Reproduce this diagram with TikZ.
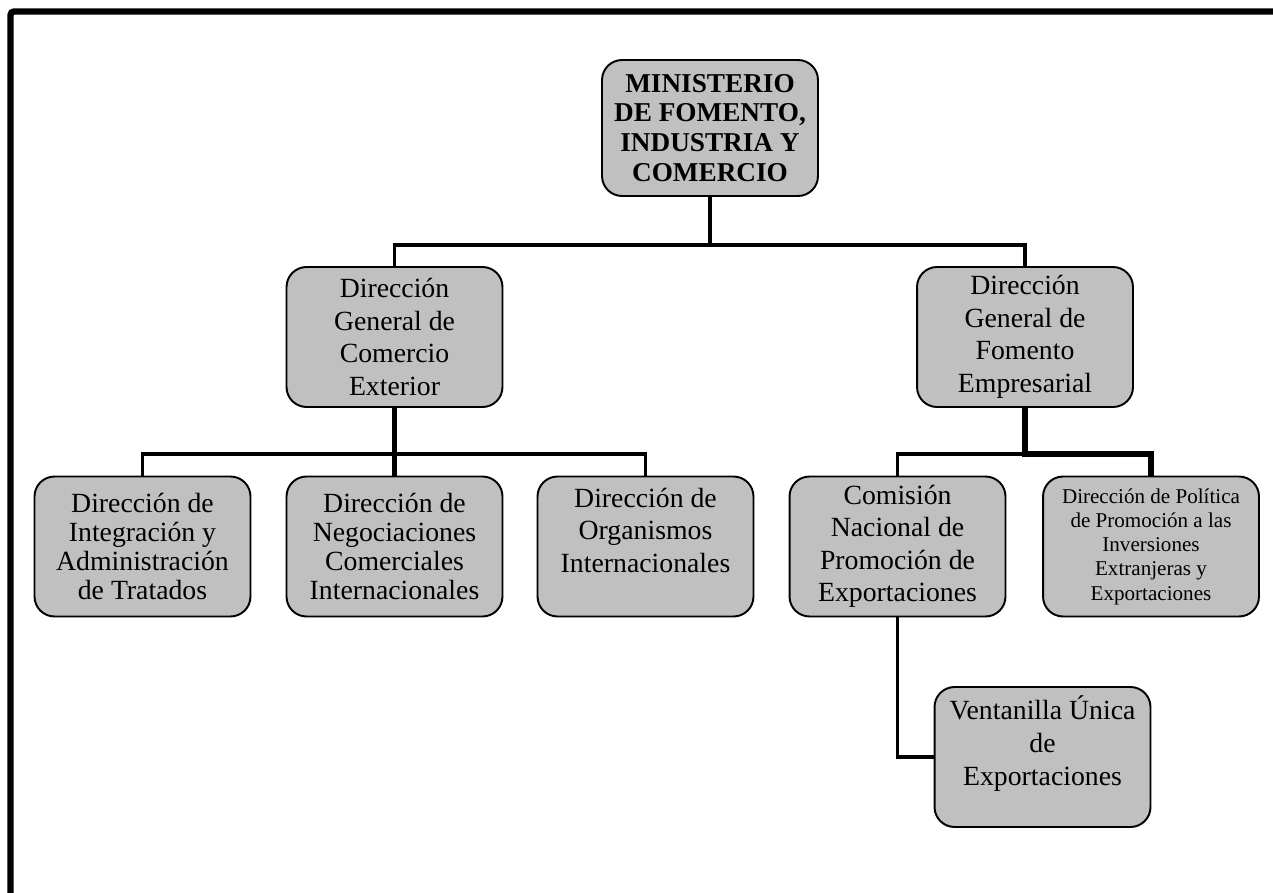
\documentclass[tikz,border=0pt]{standalone}
\usepackage{fontspec}
\setmainfont{Liberation Serif}
\usepackage{xcolor}
\usetikzlibrary{positioning}
\definecolor{boxgray}{HTML}{C0C0C0}

\begin{document}
\begin{tikzpicture}[x=0.02cm, y=-0.02cm,
    box/.style={draw, fill=boxgray, line width=1.1pt, rounded corners=0.4cm,
        align=center, inner sep=2pt, minimum width=4.32cm, minimum height=2.8cm,
        font=\fontsize{15.8}{18.5}\selectfont},
    headbox/.style={box, minimum height=2.72cm, font=\fontsize{15.5}{17}\selectfont\bfseries},
    tightbox/.style={box, font=\fontsize{15.8}{16.5}\selectfont},
    smallbox/.style={box, font=\fontsize{12}{13.8}\selectfont},
    thin link/.style={line width=2pt},
    thick link/.style={line width=3.4pt}]

    % Page and frame
    \useasboundingbox (0,0) rectangle (1273,892);
    \draw[line width=3.6pt, rounded corners=2pt] (1290,11.5) -- (10.5,11.5) -- (10.5,910);

    % Ministry
    \node[headbox] (min) at (710,128) {MINISTERIO\\DE FOMENTO,\\INDUSTRIA Y\\COMERCIO};

    % General directions
    \node[box] (dgce) at (394.5,337) {Dirección\\General de\\Comercio\\Exterior};
    \node[box] (dgfe) at (1025,337) {Dirección\\General de\\Fomento\\Empresarial};

    % Directions under foreign trade
    \node[tightbox] (integ) at (142.5,546.5) {Dirección de\\Integración y\\Administración\\de Tratados};
    \node[tightbox] (negoc) at (394.5,546.5) {Dirección de\\Negociaciones\\Comerciales\\Internacionales};
    \node[box] (orgs) at (645.5,546.5) {Dirección de\\Organismos\\Internacionales\\ ~};

    % Directions under business promotion
    \node[box] (comis) at (897.5,546.5) {Comisión\\Nacional de\\Promoción de\\Exportaciones};
    \node[smallbox] (polit) at (1151,546.5) {Dirección de Política\\de Promoción a las\\Inversiones\\Extranjeras y\\Exportaciones};
    \node[box, font=\fontsize{15.8}{18.7}\selectfont] (vent) at (1042.5,757) {Ventanilla Única\\de\\Exportaciones\\ ~};

    % Links
    \draw[thin link] (min.south) -- ++(0,48) -| (dgce.north);
    \draw[thin link] (min.south) -- ++(0,48) -| (dgfe.north);

    \draw[thin link] (dgce.south) ++(0,46) -| (integ.north);
    \draw[thin link] (dgce.south) ++(0,46) -| (orgs.north);
    \draw[thick link] (dgce.south) -- (negoc.north);

    \draw[thin link] (dgfe.south) ++(0,46) -| (comis.north);
    \draw[thick link] (dgfe.south) -- ++(0,46) -| (polit.north);

    \draw[thin link] (comis.south) |- (vent.west);
\end{tikzpicture}
\end{document}
